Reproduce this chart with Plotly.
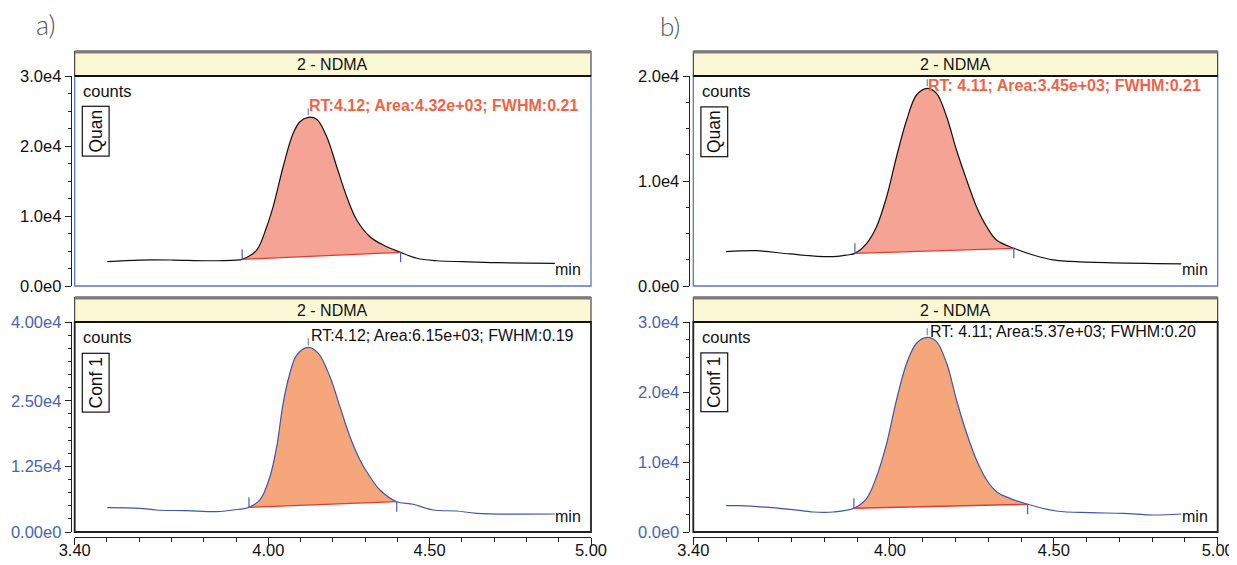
import plotly.graph_objects as go

# The page body keeps the browser's default 8px margin, so the figure is sized to
# fill the 1237x565 window that remains.
PAGE_W, PAGE_H = 1237, 565
BODY = 8
W, H = PAGE_W - BODY, PAGE_H - BODY

# ---------------- data ----------------
# a) Quan trace
A_QUAN_X = [3.501, 3.602, 3.706, 3.809, 3.902, 3.919, 3.964, 3.995, 4.015, 4.046, 4.077, 4.098,
            4.124, 4.150, 4.181, 4.212, 4.243, 4.274, 4.315, 4.356, 4.410, 4.460, 4.522, 4.604,
            4.708, 4.888]
A_QUAN_Y = [3470, 3710, 3710, 3610, 3710, 3810, 5140, 8470, 11330, 17040, 21810, 23470,
            24100, 23810, 21330, 17040, 12760, 9430, 7040, 5860, 4810, 3960, 3610, 3470,
            3330, 3240]
A_QUAN_INT = (5, 20)  # integration start / end index

# a) Conf 1 trace
A_CONF_X = [3.501, 3.602, 3.654, 3.747, 3.840, 3.891, 3.940, 3.974, 4.005, 4.026, 4.046, 4.067,
            4.088, 4.124, 4.155, 4.191, 4.222, 4.253, 4.284, 4.315, 4.346, 4.398, 4.449, 4.511,
            4.584, 4.646, 4.888]
A_CONF_Y = [4630, 4510, 4190, 4060, 3870, 4190, 4700, 6100, 10530, 16250, 24510, 30230,
            33710, 35180, 34040, 29580, 23870, 18150, 13710, 10530, 8000, 5770, 5280, 4190,
            4000, 3560, 3430]
A_CONF_INT = (6, 21)

# b) Quan trace
B_QUAN_X = [3.500, 3.593, 3.695, 3.817, 3.868, 3.893, 3.929, 3.959, 3.990, 4.020, 4.051, 4.081,
            4.114, 4.142, 4.173, 4.203, 4.234, 4.264, 4.295, 4.325, 4.378, 4.437, 4.498, 4.549,
            4.661, 4.889]
B_QUAN_Y = [3270, 3360, 3050, 2790, 2950, 3110, 4070, 5650, 8500, 12310, 15810, 18190,
            18830, 18350, 16120, 12950, 10100, 7550, 5650, 4380, 3590, 2950, 2480, 2350,
            2220, 2100]
B_QUAN_INT = (5, 20)

# b) Conf 1 trace
B_CONF_X = [3.500, 3.542, 3.695, 3.766, 3.827, 3.890, 3.929, 3.959, 3.990, 4.020, 4.051, 4.081,
            4.114, 4.142, 4.173, 4.203, 4.234, 4.264, 4.295, 4.325, 4.366, 4.420, 4.508, 4.610,
            4.711, 4.803, 4.889]
B_CONF_Y = [3760, 3760, 3240, 2860, 2860, 3390, 4810, 7900, 12670, 18860, 24100, 26960,
            27810, 27190, 24100, 18860, 14100, 10290, 7430, 5760, 4810, 3960, 3000, 2760,
            2670, 2430, 2570]
B_CONF_INT = (5, 21)

PEAK_LABELS = {
    "aq": "RT:4.12; Area:4.32e+03; FWHM:0.21",
    "ac": "RT:4.12; Area:6.15e+03; FWHM:0.19",
    "bq": "RT: 4.11; Area:3.45e+03; FWHM:0.21",
    "bc": "RT: 4.11; Area:5.37e+03; FWHM:0.20",
}
COMPOUND = "2 - NDMA"

X_RANGE = [3.40, 5.00]
X_TICKVALS = [3.40, 4.00, 4.50, 5.00]
X_TICKTEXT = ["3.40", "4.00", "4.50", "5.00"]

A_QUAN_YMAX = 30000
A_QUAN_YTICKS = [0, 10000, 20000, 30000]
A_QUAN_YTEXT = ["0.0e0", "1.0e4", "2.0e4", "3.0e4"]
A_CONF_YMAX = 40000
A_CONF_YTICKS = [0, 12500, 25000, 40000]
A_CONF_YTEXT = ["0.00e0", "1.25e4", "2.50e4", "4.00e4"]
B_QUAN_YMAX = 20000
B_QUAN_YTICKS = [0, 10000, 20000]
B_QUAN_YTEXT = ["0.0e0", "1.0e4", "2.0e4"]
B_CONF_YMAX = 30000
B_CONF_YTICKS = [0, 10000, 20000, 30000]
B_CONF_YTEXT = ["0.0e0", "1.0e4", "2.0e4", "3.0e4"]

# ---------------- layout geometry (window pixels) ----------------
COL_PX = {"a": (74.7, 591.0), "b": (693.3, 1217.7)}
YLINE_PX = {"a": 70.7, "b": 688.6}
ROW_PX = {"top": (76.0, 286.0), "bottom": (322.0, 532.0)}
XLINE_PX = 537.0
PANEL_H = 210.0

FONT = "Liberation Sans, Arial, Helvetica, sans-serif"
BLUE_TXT = "#4763B2"
QUAN_LINE = "#111111"
CONF_LINE = "#3E56AA"
QUAN_FILL = "rgba(244,158,142,0.95)"
CONF_FILL = "rgba(245,163,118,0.97)"
RED = "#E83A2C"
TICK_BLUE = "#3E5FC2"
APEX_BLUE = "#7F96D8"
FRAME_BLUE = "#5C75C6"
HEADER_FILL = "#FBF8D6"
QUAN_TXT = "#EF6448"


def px_x(p):
    return (p - BODY) / W


def px_y(p):
    return 1 - (p - BODY) / H


panels = [
    dict(key="aq", col="a", row="top", x=A_QUAN_X, y=A_QUAN_Y, idx=A_QUAN_INT,
         ymax=A_QUAN_YMAX, yt=A_QUAN_YTICKS, ytt=A_QUAN_YTEXT, kind="Quan"),
    dict(key="ac", col="a", row="bottom", x=A_CONF_X, y=A_CONF_Y, idx=A_CONF_INT,
         ymax=A_CONF_YMAX, yt=A_CONF_YTICKS, ytt=A_CONF_YTEXT, kind="Conf 1"),
    dict(key="bq", col="b", row="top", x=B_QUAN_X, y=B_QUAN_Y, idx=B_QUAN_INT,
         ymax=B_QUAN_YMAX, yt=B_QUAN_YTICKS, ytt=B_QUAN_YTEXT, kind="Quan"),
    dict(key="bc", col="b", row="bottom", x=B_CONF_X, y=B_CONF_Y, idx=B_CONF_INT,
         ymax=B_CONF_YMAX, yt=B_CONF_YTICKS, ytt=B_CONF_YTEXT, kind="Conf 1"),
]

fig = go.Figure()
layout = dict(width=W, height=H, margin=dict(l=0, r=0, t=0, b=0, autoexpand=False),
              paper_bgcolor="white", plot_bgcolor="white", showlegend=False,
              font=dict(family=FONT, size=16, color="#111"))
shapes = []
annotations = []

for i, p in enumerate(panels, start=1):
    xr = "x" if i == 1 else f"x{i}"
    yr = "y" if i == 1 else f"y{i}"
    xa = "xaxis" if i == 1 else f"xaxis{i}"
    ya = "yaxis" if i == 1 else f"yaxis{i}"
    quan = p["kind"] == "Quan"
    x0p, x1p = COL_PX[p["col"]]
    y0p, y1p = ROW_PX[p["row"]]
    xdom = [px_x(x0p), px_x(x1p)]
    ydom = [px_y(y1p), px_y(y0p)]
    unit = p["ymax"] / PANEL_H  # data units per pixel

    xs, ys = p["x"], p["y"]
    s, e = p["idx"]
    line_col = QUAN_LINE if quan else CONF_LINE
    fill_col = QUAN_FILL if quan else CONF_FILL

    # baseline (fill reference)
    fig.add_trace(go.Scatter(x=[xs[s], xs[e]], y=[ys[s], ys[e]], mode="lines",
                             line=dict(width=0), hoverinfo="skip", xaxis=xr, yaxis=yr))
    # peak fill
    fig.add_trace(go.Scatter(x=xs[s:e + 1], y=ys[s:e + 1], mode="lines",
                             line=dict(width=0, shape="spline", smoothing=1.0),
                             fill="tonexty", fillcolor=fill_col, hoverinfo="skip",
                             xaxis=xr, yaxis=yr))
    # chromatogram trace
    fig.add_trace(go.Scatter(x=xs, y=ys, mode="lines",
                             line=dict(color=line_col, width=1.2, shape="spline", smoothing=1.0),
                             hoverinfo="skip", xaxis=xr, yaxis=yr))
    # red baseline
    fig.add_trace(go.Scatter(x=[xs[s], xs[e]], y=[ys[s], ys[e]], mode="lines",
                             line=dict(color=RED, width=1.3), hoverinfo="skip",
                             xaxis=xr, yaxis=yr))
    # integration markers
    fig.add_trace(go.Scatter(x=[xs[s], xs[s]], y=[ys[s] - 0.5 * unit, ys[s] + 10 * unit],
                             mode="lines", line=dict(color=TICK_BLUE, width=1.2),
                             hoverinfo="skip", xaxis=xr, yaxis=yr))
    fig.add_trace(go.Scatter(x=[xs[e], xs[e]], y=[ys[e] + 0.5 * unit, ys[e] - 10 * unit],
                             mode="lines", line=dict(color=TICK_BLUE, width=1.2),
                             hoverinfo="skip", xaxis=xr, yaxis=yr))
    k = ys.index(max(ys))
    fig.add_trace(go.Scatter(x=[xs[k], xs[k]], y=[ys[k] + 2 * unit, ys[k] + 9 * unit],
                             mode="lines", line=dict(color=APEX_BLUE, width=1.4),
                             hoverinfo="skip", xaxis=xr, yaxis=yr))

    # axes
    ycol = "#111" if quan else BLUE_TXT
    layout[ya] = dict(domain=ydom, range=[0, p["ymax"]], anchor="free",
                      position=px_x(YLINE_PX[p["col"]]), automargin=False,
                      tickmode="array", tickvals=p["yt"], ticktext=p["ytt"],
                      ticks="outside", ticklen=6, tickwidth=1, tickcolor="#222",
                      showline=True, linecolor="#222", linewidth=1,
                      showgrid=False, zeroline=False, fixedrange=True,
                      tickfont=dict(family=FONT, size=16.5, color=ycol),
                      minor=dict(dtick=2500, tick0=0, ticks="outside", ticklen=3,
                                 tickcolor="#222", showgrid=False))
    if p["row"] == "top":
        layout[xa] = dict(domain=xdom, range=X_RANGE, anchor=yr, visible=False,
                          automargin=False,
                          showgrid=False, zeroline=False, fixedrange=True)
    else:
        layout[xa] = dict(domain=xdom, range=X_RANGE, anchor="free",
                          position=px_y(XLINE_PX), automargin=False,
                          tickmode="array", tickvals=X_TICKVALS, ticktext=X_TICKTEXT,
                          ticks="outside", ticklen=7, tickwidth=1, tickcolor="#222",
                          ticklabelstandoff=-9,
                          showline=True, linecolor="#222", linewidth=1,
                          showgrid=False, zeroline=False, fixedrange=True,
                          tickfont=dict(family=FONT, size=16.5, color="#111"),
                          minor=dict(dtick=0.1, tick0=3.4, ticks="outside", ticklen=4,
                                     tickcolor="#222", showgrid=False))

    xdr, ydr = f"{xr} domain", f"{yr} domain"
    # frame
    shapes.append(dict(type="rect", xref=xdr, yref=ydr, x0=0, x1=1, y0=0, y1=1,
                       line=dict(color=FRAME_BLUE if quan else "#222",
                                 width=1.3 if quan else 1.8),
                       fillcolor="rgba(0,0,0,0)", layer="above"))
    # header box
    hb = 1 + 25 / PANEL_H
    shapes.append(dict(type="rect", xref=xdr, yref=ydr, x0=0, x1=1, y0=1, y1=hb,
                       line=dict(color="#222", width=1), fillcolor=HEADER_FILL, layer="above"))
    shapes.append(dict(type="rect", xref=xdr, yref=ydr, x0=0, x1=1,
                       y0=1 + 22.5 / PANEL_H, y1=hb,
                       line=dict(width=0), fillcolor="#7C7C7C", layer="above"))
    shapes.append(dict(type="line", xref=xdr, yref=ydr, x0=0, x1=1, y0=1, y1=1,
                       line=dict(color="#111", width=2), layer="above"))
    annotations.append(dict(text=COMPOUND, xref=xdr, yref=ydr, x=0.5, y=1 + 11.5 / PANEL_H,
                            xanchor="center", yanchor="middle", showarrow=False,
                            font=dict(family=FONT, size=16, color="#111")))
    # counts
    annotations.append(dict(text="counts", xref=xdr, yref=ydr, x=6.5 / (x1p - x0p),
                            y=1 - 15 / PANEL_H, xanchor="left", yanchor="middle",
                            showarrow=False, font=dict(family=FONT, size=16.5, color="#111")))
    # Quan / Conf 1 box
    box_cy = 55.5 if quan else 60.5
    annotations.append(dict(text=p["kind"], xref=xdr, yref=ydr, x=20.5 / (x1p - x0p),
                            y=1 - box_cy / PANEL_H, xanchor="center", yanchor="middle",
                            textangle=-90, showarrow=False, bordercolor="#111",
                            borderwidth=1.2, borderpad=3,
                            font=dict(family=FONT, size=17.5, color="#111")))
    # min
    min_y = 193 if p["row"] == "top" else 194.7
    annotations.append(dict(text="min", xref=xdr, yref=ydr, x=(xs[-1] - X_RANGE[0]) /
                            (X_RANGE[1] - X_RANGE[0]) - 0.003,
                            y=1 - min_y / PANEL_H, xanchor="left", yanchor="middle",
                            showarrow=False, font=dict(family=FONT, size=16, color="#111")))
    # peak label
    lab_y = {"aq": 29, "ac": 13.7, "bq": 9, "bc": 9.7}[p["key"]]
    annotations.append(dict(text=PEAK_LABELS[p["key"]], xref=xr, yref=ydr, x=xs[k],
                            y=1 - lab_y / PANEL_H, xanchor="left", yanchor="middle",
                            xshift=-1 if quan else 1, showarrow=False,
                            font=dict(family=FONT, size=16,
                                      color=QUAN_TXT if quan else "#111",
                                      weight="bold" if quan else "normal")))

# panel letters
annotations.append(dict(text="a)", xref="paper", yref="paper", x=px_x(46), y=px_y(25),
                        xanchor="center", yanchor="middle", showarrow=False,
                        font=dict(family="Lato, Roboto, sans-serif", size=27, color="#555",
                                  weight=300)))
annotations.append(dict(text="b)", xref="paper", yref="paper", x=px_x(670), y=1,
                        xanchor="center", yanchor="top", showarrow=False,
                        font=dict(family="Lato, Roboto, sans-serif", size=26, color="#555",
                                  weight=300)))

layout["shapes"] = shapes
layout["annotations"] = annotations
fig.update_layout(**layout)
fig.write_html("out.html")
